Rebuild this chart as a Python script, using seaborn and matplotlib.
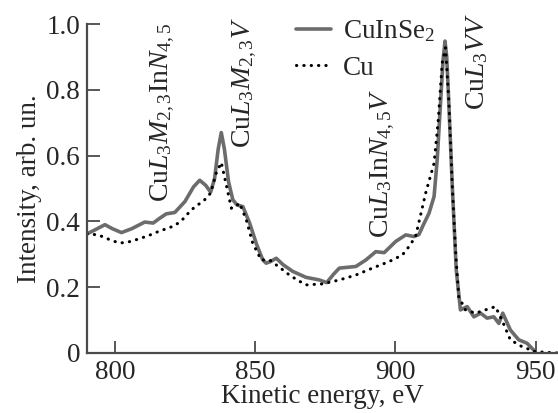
import numpy as np
import pandas as pd
import matplotlib
matplotlib.use("Agg")
import matplotlib.pyplot as plt
import seaborn as sns

# CuInSe2 (solid)
e_cuinse2 = [790, 793, 796.4, 799, 802.3, 806, 810.6, 813.6, 816, 818.3, 821.3, 824.9, 828, 830.2,
             832.3, 834.1, 835.5, 836.8, 837.9, 839, 840.5, 842, 843.5, 845.6, 848, 850.5, 852.7,
             853.9, 855.5, 857.5, 860, 863.4, 868.1, 872.9, 875.5, 878, 880, 885.9, 889.5, 893,
             896, 900.1, 903.7, 906.6, 908.4, 910, 912, 913.8, 914.9, 916.1, 917.0, 917.7, 918.3,
             918.8, 920.3, 921.7, 923.2, 925.6, 928, 930.4, 932.7, 935.1, 936.9, 938.3, 941, 944,
             946.9, 949.9]
i_cuinse2 = [0.362, 0.375, 0.39, 0.378, 0.366, 0.378, 0.398, 0.395, 0.41, 0.423, 0.427, 0.46, 0.505,
             0.525, 0.51, 0.489, 0.53, 0.62, 0.67, 0.62, 0.52, 0.466, 0.45, 0.445, 0.395, 0.33,
             0.283, 0.273, 0.278, 0.288, 0.268, 0.248, 0.230, 0.222, 0.214, 0.24, 0.258, 0.263,
             0.283, 0.308, 0.305, 0.339, 0.359, 0.354, 0.360, 0.39, 0.425, 0.476, 0.587, 0.76,
             0.89, 0.948, 0.9, 0.81, 0.506, 0.253, 0.131, 0.141, 0.11, 0.121, 0.106, 0.11, 0.090,
             0.121, 0.07, 0.04, 0.03, 0.004]

# Cu (dotted)
e_cu = [790, 794, 798.8, 801.7, 805, 808.2, 812, 815.4, 821.3, 824, 827.2, 832, 834.1, 836.1, 837.9,
        839.7, 841.5, 843, 844.4, 846.8, 849.1, 852.1, 855.1, 859.8, 862.2, 865, 868.1, 874, 880,
        885.9, 891.8, 897.8, 902.5, 904.9, 907.2, 910.8, 913.8, 915.3, 916.7, 917.9, 919.1, 920.3,
        921.5, 922.6, 925, 928.6, 932.1, 935.7, 938, 941, 945.2, 950, 958]
i_cu = [0.362, 0.359, 0.342, 0.334, 0.338, 0.346, 0.357, 0.369, 0.387, 0.405, 0.435, 0.466, 0.486,
        0.547, 0.579, 0.51, 0.44, 0.445, 0.456, 0.405, 0.334, 0.283, 0.283, 0.253, 0.237, 0.222,
        0.207, 0.21, 0.222, 0.237, 0.258, 0.278, 0.298, 0.324, 0.354, 0.486, 0.577, 0.709, 0.882,
        0.928, 0.76, 0.506, 0.304, 0.171, 0.131, 0.121, 0.131, 0.141, 0.10, 0.04, 0.019, 0.004, 0.0]

x_ticks = [800, 850, 900, 950]
y_ticks = [0, 0.2, 0.4, 0.6, 0.8, 1.0]
y_tick_labels = ["0", "0.2", "0.4", "0.6", "0.8", "1.0"]

sns.set_style("ticks")
plt.rcParams["font.family"] = ["Liberation Serif", "DejaVu Serif"]
plt.rcParams["mathtext.fontset"] = "custom"
plt.rcParams["mathtext.rm"] = "Liberation Serif"
plt.rcParams["mathtext.it"] = "Liberation Serif:italic"
plt.rcParams["mathtext.bf"] = "Liberation Serif:bold"

FS = 19.5
spine_c = "#4a4a4a"

fig = plt.figure(figsize=(5.58, 4.13), dpi=100)
ax = fig.add_axes([87 / 558, 60 / 413, 1 - 87 / 558, (353 - 24) / 413])

sns.lineplot(x=e_cuinse2, y=i_cuinse2, ax=ax, color="#6c6c6c", linewidth=2.6,
             sort=False, estimator=None, label=r"CuInSe$_2$")
sns.lineplot(x=e_cu, y=i_cu, ax=ax, color="black", linewidth=2.2,
             sort=False, estimator=None, label="Cu")
ax.lines[1].set_linestyle((0, (0.1, 2.3)))
ax.lines[1].set_dash_capstyle("round")

ax.set_xlim(790, 958)
ax.set_ylim(0, 1.0)
ax.set_xticks(x_ticks)
ax.set_yticks(y_ticks)
ax.set_yticklabels(y_tick_labels)
ax.tick_params(direction="in", length=9, width=1.3, color=spine_c, labelsize=FS, pad=5)
for s in ["top", "right"]:
    ax.spines[s].set_visible(False)
for s in ["left", "bottom"]:
    ax.spines[s].set_color(spine_c)
    ax.spines[s].set_linewidth(1.6)

ax.set_xlabel("Kinetic energy, eV", fontsize=FS, labelpad=-1)
ax.set_ylabel("Intensity, arb. un.", fontsize=FS, labelpad=3)

leg = ax.legend(loc="upper left", bbox_to_anchor=(0.42, 1.05), frameon=False, fontsize=FS,
                handlelength=1.3, handletextpad=0.45, labelspacing=0.42, borderaxespad=0)
for h in leg.get_lines():
    h.set_linewidth(2.6)
leg.get_lines()[1].set_linewidth(2.2)
leg.get_lines()[1].set_linestyle((0, (0.1, 2.3)))
leg.get_lines()[1].set_dash_capstyle("round")

ann_fs = 20
ax.text(817, 0.46, r"Cu$\mathit{L}_3\mathit{M}_{2,3}$In$\mathit{N}_{4,5}$", rotation=90,
        ha="center", va="bottom", fontsize=ann_fs)
ax.text(846.2, 0.624, r"Cu$\mathit{L}_3\mathit{M}_{2,3}\mathit{V}$", rotation=90,
        ha="center", va="bottom", fontsize=ann_fs)
ax.text(895.5, 0.35, r"Cu$\mathit{L}_3$In$\mathit{N}_{4,5}\mathit{V}$", rotation=90,
        ha="center", va="bottom", fontsize=ann_fs)
ax.text(929, 0.74, r"Cu$\mathit{L}_3\mathit{VV}$", rotation=90,
        ha="center", va="bottom", fontsize=ann_fs)

fig.savefig("out.png", dpi=100)
